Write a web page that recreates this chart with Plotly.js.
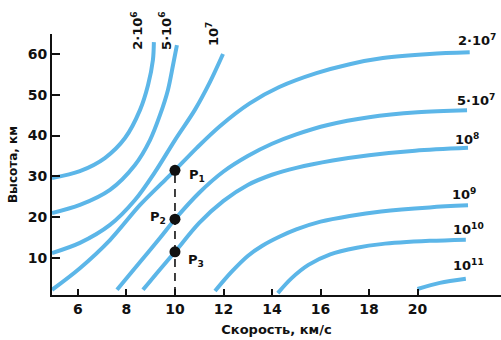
<!DOCTYPE html>
<html><head><meta charset="utf-8">
<script src="https://cdn.plot.ly/plotly-3.0.1.min.js"></script>
<style>html,body{margin:0;padding:0;background:#fff}</style>
</head><body><div id="chart" style="width:501px;height:340px"></div>
<script>
// Curve data (velocity km/s, altitude km)
const x_2e6  = [4.93, 6.08, 7.11, 7.94, 8.56, 8.89, 9.09, 9.13];
const y_2e6  = [29.6, 31.3, 34.5, 39.4, 46.3, 52.4, 58.5, 62.9];
const x_5e6  = [4.93, 6.08, 7.32, 8.35, 8.97, 9.38, 9.71, 9.92, 10.08];
const y_5e6  = [21.0, 23.0, 26.7, 32.8, 38.9, 45.0, 51.2, 57.3, 62.2];
const x_1e7  = [4.93, 6.08, 7.32, 8.35, 9.18, 10.0, 10.82, 11.44, 11.98];
const y_1e7  = [11.2, 13.7, 18.1, 24.2, 31.1, 38.9, 46.3, 53.1, 60.0];
const x_2e7  = [4.93, 6.08, 7.32, 8.56, 9.59, 10.0, 10.9, 11.85, 13.08, 14.3, 15.83, 17.2, 18.57, 20.5, 22.15];
const y_2e7  = [2.2, 7.5, 14.4, 23.0, 29.1, 31.5, 37.0, 42.3, 47.9, 51.9, 55.3, 57.5, 59.0, 60.0, 60.4];
const x_5e7  = [7.61, 8.56, 9.38, 10.0, 11.0, 12.0, 13.0, 14.0, 15.0, 16.3, 18.0, 20.0, 22.04];
const y_5e7  = [2.2, 9.0, 14.9, 19.5, 26.0, 31.2, 35.0, 38.0, 40.3, 42.6, 44.5, 45.7, 46.2];
const x_1e8  = [8.68, 9.38, 10.0, 11.0, 12.0, 13.0, 14.0, 15.0, 16.5, 18.0, 19.9, 22.08];
const y_1e8  = [2.2, 7.2, 11.5, 18.6, 24.0, 27.9, 30.4, 32.1, 33.9, 35.2, 36.3, 37.0];
const x_1e9  = [11.65, 12.3, 13.0, 13.6, 14.3, 15.0, 16.0, 17.2, 18.5, 20.5, 22.08];
const y_1e9  = [1.9, 6.4, 10.5, 13.0, 15.2, 17.0, 18.9, 20.3, 21.4, 22.4, 22.9];
const x_1e10 = [14.24, 14.8, 15.5, 16.4, 17.5, 18.5, 20.5, 21.99];
const y_1e10 = [1.4, 5.0, 8.3, 10.9, 12.5, 13.4, 14.2, 14.5];
const x_1e11 = [20.0, 20.92, 21.99];
const y_1e11 = [2.4, 3.9, 4.9];

// Points P1..P3
const pointX = [10, 10, 10];
const pointY = [31.5, 19.5, 11.5];
const pointNames = ['P<sub>1</sub>', 'P<sub>2</sub>', 'P<sub>3</sub>'];

// Tick labels
const xTicks = [6, 8, 10, 12, 14, 16, 18, 20];
const yTicks = [10, 20, 30, 40, 50, 60];

// Curve labels
const topLabels = ['2·10<sup>6</sup>', '5·10<sup>6</sup>', '10<sup>7</sup>'];
const rightLabels = ['2·10<sup>7</sup>', '5·10<sup>7</sup>', '10<sup>8</sup>', '10<sup>9</sup>', '10<sup>10</sup>', '10<sup>11</sup>'];

const curves = [
  [x_2e6, y_2e6], [x_5e6, y_5e6], [x_1e7, y_1e7], [x_2e7, y_2e7], [x_5e7, y_5e7],
  [x_1e8, y_1e8], [x_1e9, y_1e9], [x_1e10, y_1e10], [x_1e11, y_1e11]
];

const blue = '#5cb6e8';
const traces = curves.map(c => ({
  x: c[0], y: c[1], type: 'scatter', mode: 'lines',
  line: {color: blue, width: 4, shape: 'spline', smoothing: 0.9},
  hoverinfo: 'skip', cliponaxis: false
}));

traces.push({
  x: [pointX[0], pointX[0]], y: [0.93, pointY[0]], type: 'scatter', mode: 'lines',
  line: {color: '#111', width: 1.6, dash: '8px,6px'}, hoverinfo: 'skip'
});
traces.push({
  x: pointX, y: pointY, type: 'scatter', mode: 'markers',
  marker: {color: '#111', size: 11}, hoverinfo: 'skip'
});

const fam = 'DejaVu Sans, Liberation Sans, Arial, sans-serif';
const f = {family: fam, size: 14, color: '#111', weight: 'bold'};
const fl = {family: fam, size: 13, color: '#111', weight: 'bold'};

const annotations = [];
// top rotated labels (x in data, y in paper units)
const topPos = [[8.43, 1.012], [9.59, 1.012], [11.53, 1.0]];
topLabels.forEach((t, i) => annotations.push({
  x: topPos[i][0], y: topPos[i][1], xref: 'x', yref: 'paper', text: t, showarrow: false,
  xanchor: 'center', yanchor: 'middle', textangle: -90, font: fl
}));
const rightPos = [[22.45, 63.4], [22.41, 48.7], [22.04, 39.2], [21.91, 25.7], [22.08, 17.1], [22.12, 8.3]];
rightLabels.forEach((t, i) => annotations.push({
  x: rightPos[i][0], y: rightPos[i][1], xref: 'x', yref: 'y', text: t, showarrow: false,
  xanchor: 'center', yanchor: 'middle', font: fl
}));
// P labels
const pPos = [[10.5, 30.3, 'left'], [9.72, 20.0, 'right'], [10.46, 9.3, 'left']];
pointNames.forEach((t, i) => annotations.push({
  x: pPos[i][0], y: pPos[i][1], xref: 'x', yref: 'y', text: t, showarrow: false,
  xanchor: pPos[i][2], yanchor: 'middle', font: fl
}));

const layout = {
  width: 501, height: 340,
  margin: {l: 52, r: 0, t: 34, b: 45},
  paper_bgcolor: '#fff', plot_bgcolor: '#fff',
  showlegend: false,
  xaxis: {
    range: [4.93, 23.44], tickvals: xTicks, ticktext: xTicks.map(String),
    ticks: 'inside', ticklen: 6, tickwidth: 2, tickcolor: '#111',
    showline: true, linecolor: '#111', linewidth: 2, showgrid: false, zeroline: false,
    tickfont: f,
    title: {text: 'Скорость, км/с', font: {family: fam, size: 13, color: '#111', weight: 'bold'}, standoff: 9}
  },
  yaxis: {
    range: [0.93, 64.9], tickvals: yTicks, ticktext: yTicks.map(String),
    ticks: 'inside', ticklen: 8, tickwidth: 2, tickcolor: '#111',
    showline: true, linecolor: '#111', linewidth: 2, showgrid: false, zeroline: false,
    tickfont: f,
    title: {text: 'Высота, км', font: {family: fam, size: 12, color: '#111', weight: 'bold'}, standoff: 8}
  },
  annotations: annotations
};

Plotly.newPlot('chart', traces, layout, {displayModeBar: false, staticPlot: true});
</script>
</body></html>
